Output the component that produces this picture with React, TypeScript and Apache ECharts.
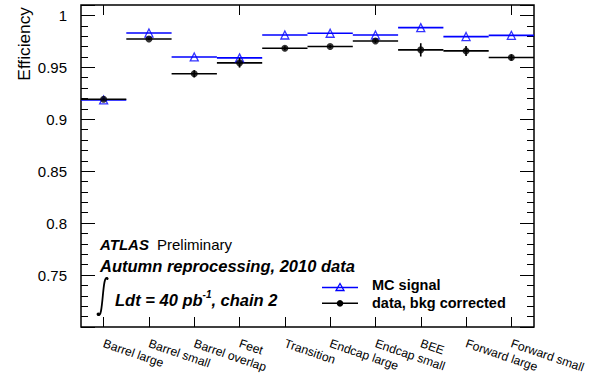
import React, { useEffect, useRef } from "react";
import * as echarts from "echarts";

const categories = [
  "Barrel large",
  "Barrel small",
  "Barrel overlap",
  "Feet",
  "Transition",
  "Endcap large",
  "Endcap small",
  "BEE",
  "Forward large",
  "Forward small",
];
const mcSignal = [0.9186, 0.983, 0.96, 0.9591, 0.9811, 0.9828, 0.9811, 0.9882, 0.9796, 0.9808];
const dataBkgCorrected = [0.9193, 0.9773, 0.9438, 0.9543, 0.9684, 0.97, 0.9754, 0.9668, 0.9658, 0.9595];
const dataErrors = [0.001, 0.001, 0.0035, 0.0046, 0.002, 0.0015, 0.002, 0.0064, 0.0048, 0.003];
const yMin = 0.7;
const yMax = 1.01;
const yMajorStep = 0.05;
const yMinorStep = 0.01;

const FONT = "'Liberation Sans', Arial, Helvetica, sans-serif";
const BLUE = "#0000ff";
const BLACK = "#000000";

export default function App() {
  const ref = useRef<HTMLDivElement>(null);

  useEffect(() => {
    document.body.style.margin = "0";
    if (!ref.current) return;
    const chart = echarts.init(ref.current, undefined, { renderer: "svg" });

    const mcPoints = mcSignal.map((v, i) => [i, v]);
    const dataPoints = dataBkgCorrected.map((v, i) => [i, v, dataErrors[i]]);

    const yBase = {
      type: "value" as const,
      min: yMin,
      max: yMax,
      axisLine: { show: false },
      splitLine: { show: false },
    };
    const labelFmt = (v: number) => {
      if (v < yMin + 0.001 || v > 1.0005) return "";
      return String(Math.round(v * 100) / 100);
    };

    const xBase = {
      type: "category" as const,
      data: categories,
      boundaryGap: true,
      axisLine: { show: false },
      splitLine: { show: false },
    };

    const option: any = {
      animation: false,
      backgroundColor: "#ffffff",
      grid: {
        left: 81,
        top: 5,
        width: 453,
        height: 322,
        show: true,
        borderColor: BLACK,
        borderWidth: 1.5,
        backgroundColor: "transparent",
        containLabel: false,
      },
      xAxis: [
        {
          ...xBase,
          position: "bottom",
          axisTick: { show: true, inside: true, alignWithLabel: true, length: 10, lineStyle: { color: BLACK, width: 1 } },
          axisLabel: {
            show: true,
            interval: 0,
            rotate: -19,
            margin: 16,
            fontSize: 12.2,
            color: BLACK,
            fontFamily: FONT,
          },
        },
        {
          ...xBase,
          position: "top",
          axisTick: { show: true, inside: true, alignWithLabel: true, length: 10, lineStyle: { color: BLACK, width: 1 } },
          axisLabel: { show: false },
        },
      ],
      yAxis: [
        {
          ...yBase,
          position: "left",
          interval: yMajorStep,
          axisTick: { show: true, inside: true, length: 14, lineStyle: { color: BLACK, width: 1 } },
          axisLabel: { show: true, margin: 14, fontSize: 15, color: BLACK, fontFamily: FONT, formatter: labelFmt },
        },
        {
          ...yBase,
          position: "left",
          interval: yMinorStep,
          axisTick: { show: true, inside: true, length: 7, lineStyle: { color: BLACK, width: 1 } },
          axisLabel: { show: false },
        },
        {
          ...yBase,
          position: "right",
          interval: yMajorStep,
          axisTick: { show: true, inside: true, length: 14, lineStyle: { color: BLACK, width: 1 } },
          axisLabel: { show: false },
        },
        {
          ...yBase,
          position: "right",
          interval: yMinorStep,
          axisTick: { show: true, inside: true, length: 7, lineStyle: { color: BLACK, width: 1 } },
          axisLabel: { show: false },
        },
      ],
      series: [
        {
          name: "MC signal",
          type: "custom",
          xAxisIndex: 0,
          yAxisIndex: 0,
          data: mcPoints,
          renderItem: (_p: any, api: any) => {
            const c = api.coord([api.value(0), api.value(1)]);
            const w = api.size([1, 0])[0];
            return {
              type: "line",
              shape: { x1: c[0] - w / 2, y1: c[1], x2: c[0] + w / 2, y2: c[1] },
              style: { stroke: BLUE, lineWidth: 1.6 },
            };
          },
        },
        {
          name: "data, bkg corrected",
          type: "custom",
          xAxisIndex: 0,
          yAxisIndex: 0,
          data: dataPoints,
          renderItem: (_p: any, api: any) => {
            const i = api.value(0);
            const v = api.value(1);
            const e = api.value(2);
            const c = api.coord([i, v]);
            const lo = api.coord([i, v - e]);
            const hi = api.coord([i, v + e]);
            const w = api.size([1, 0])[0];
            return {
              type: "group",
              children: [
                {
                  type: "line",
                  shape: { x1: c[0] - w / 2, y1: c[1], x2: c[0] + w / 2, y2: c[1] },
                  style: { stroke: BLACK, lineWidth: 1.6 },
                },
                {
                  type: "line",
                  shape: { x1: c[0], y1: lo[1], x2: c[0], y2: hi[1] },
                  style: { stroke: BLACK, lineWidth: 1.6 },
                },
              ],
            };
          },
        },
        {
          name: "MC markers",
          type: "scatter",
          xAxisIndex: 0,
          yAxisIndex: 0,
          data: mcPoints,
          symbol: "triangle",
          symbolSize: 8,
          itemStyle: { color: "rgba(255,255,255,0)", borderColor: BLUE, borderWidth: 1.3 },
        },
        {
          name: "data markers",
          type: "scatter",
          xAxisIndex: 0,
          yAxisIndex: 0,
          data: dataPoints.map((d) => [d[0], d[1]]),
          symbol: "circle",
          symbolSize: 7,
          itemStyle: { color: BLACK },
        },
      ],
      graphic: [
        {
          type: "text",
          x: 23.5,
          y: 7,
          rotation: Math.PI / 2,
          style: {
            text: "Efficiency",
            fontSize: 17.3,
            fontFamily: FONT,
            fill: BLACK,
            textAlign: "right",
            textVerticalAlign: "middle",
          },
        },
        {
          type: "text",
          x: 100,
          y: 251.5,
          style: {
            text: "ATLAS",
            fontSize: 15,
            fontWeight: "bold",
            fontStyle: "italic",
            fontFamily: FONT,
            fill: BLACK,
            textVerticalAlign: "bottom",
          },
        },
        {
          type: "text",
          x: 157,
          y: 251.5,
          style: {
            text: "Preliminary",
            fontSize: 15,
            fontFamily: FONT,
            fill: BLACK,
            textVerticalAlign: "bottom",
          },
        },
        {
          type: "text",
          x: 100,
          y: 274.5,
          style: {
            text: "Autumn reprocessing, 2010 data",
            fontSize: 16.5,
            fontWeight: "bold",
            fontStyle: "italic",
            fontFamily: FONT,
            fill: BLACK,
            textVerticalAlign: "bottom",
          },
        },
        {
          type: "bezierCurve",
          shape: { x1: 107.5, y1: 278.5, cpx1: 102, cpy1: 272, cpx2: 103.5, cpy2: 321, x2: 98, y2: 314.5 },
          style: { stroke: BLACK, lineWidth: 1.8, fill: "none" },
        },
        {
          type: "circle",
          shape: { cx: 98.3, cy: 314.3, r: 1.7 },
          style: { fill: BLACK },
        },
        {
          type: "circle",
          shape: { cx: 107.3, cy: 278.6, r: 1.3 },
          style: { fill: BLACK },
        },
        {
          type: "text",
          x: 115,
          y: 300,
          style: {
            text: "{m|Ldt = 40 pb}{s|-1}{m|, chain 2}",
            textVerticalAlign: "middle",
            rich: {
              m: { fontSize: 16.5, fontWeight: "bold", fontStyle: "italic", fontFamily: FONT, fill: BLACK },
              s: { fontSize: 10, fontWeight: "bold", fontStyle: "italic", fontFamily: FONT, fill: BLACK, padding: [0, 0, 12, 0] },
            },
          },
        },
        {
          type: "line",
          shape: { x1: 322, y1: 287.5, x2: 358, y2: 287.5 },
          style: { stroke: BLUE, lineWidth: 1.6 },
        },
        {
          type: "polygon",
          shape: { points: [[340, 283.5], [344, 290.5], [336, 290.5]] },
          style: { fill: "rgba(255,255,255,0)", stroke: BLUE, lineWidth: 1.3 },
        },
        {
          type: "line",
          shape: { x1: 322, y1: 303.3, x2: 358, y2: 303.3 },
          style: { stroke: BLACK, lineWidth: 1.6 },
        },
        {
          type: "circle",
          shape: { cx: 340, cy: 303.3, r: 3.3 },
          style: { fill: BLACK },
        },
        {
          type: "text",
          x: 372,
          y: 285,
          style: {
            text: "MC signal",
            fontSize: 14.5,
            fontWeight: "bold",
            fontFamily: FONT,
            fill: BLACK,
            textVerticalAlign: "middle",
          },
        },
        {
          type: "text",
          x: 372,
          y: 302.5,
          style: {
            text: "data, bkg corrected",
            fontSize: 14.5,
            fontWeight: "bold",
            fontFamily: FONT,
            fill: BLACK,
            textVerticalAlign: "middle",
          },
        },
      ],
    };

    chart.setOption(option);
    return () => chart.dispose();
  }, []);

  return <div ref={ref} style={{ width: 594, height: 381 }} />;
}
